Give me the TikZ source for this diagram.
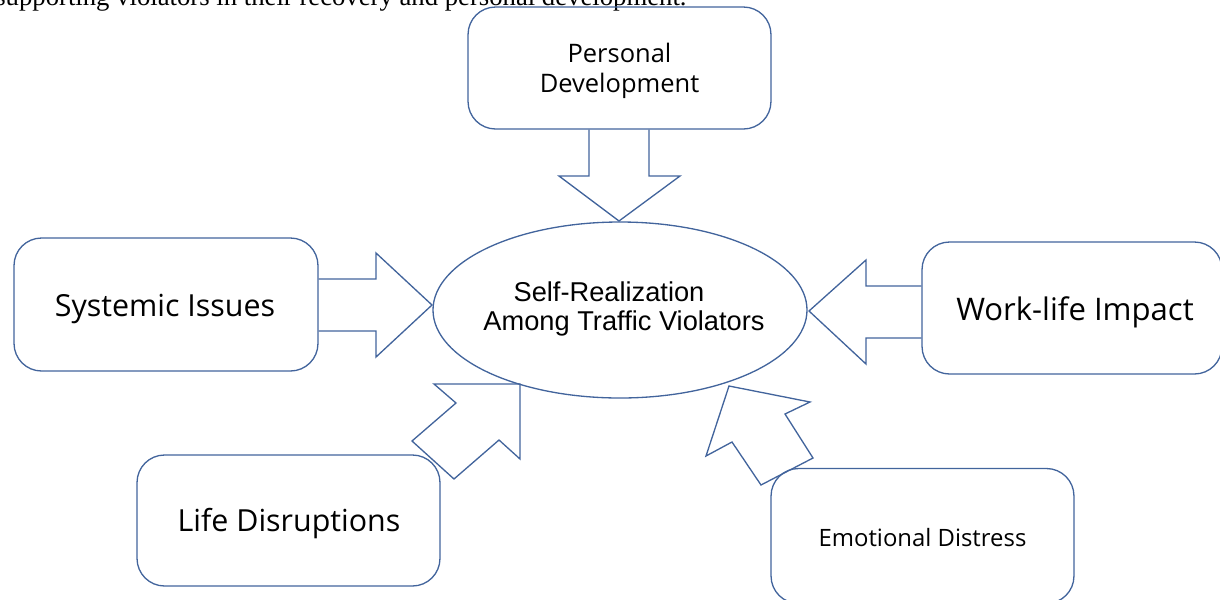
\documentclass[tikz,border=0pt]{standalone}
\usepackage{fontspec}
\setmainfont{Liberation Serif}
\newfontfamily\boxfont{Open Sans}
\newfontfamily\centrefont{Liberation Sans}
\usetikzlibrary{positioning}

\definecolor{edgeblue}{HTML}{42649C}

\tikzset{
  box/.style={draw=edgeblue, line width=0.75pt, rounded corners=0.55cm,
    align=center, font=\boxfont, inner sep=0pt},
  blockarrow/.style={draw=edgeblue, line width=0.75pt, line join=miter}
}

\begin{document}
\begin{tikzpicture}[x=0.02cm, y=-0.02cm]
	\useasboundingbox (0,0) rectangle (1220,599);
	\clip (0,0) rectangle (1220,599);
	
	% running text above the figure
	\node[anchor=base west, inner sep=0pt, font=\fontsize{15.2}{17}\selectfont] (caption) at (-5,5)
	{supporting violators in their recovery and personal development.};
	
	% centre
	\draw[edgeblue, line width=0.75pt] (620,310) ellipse [x radius=187, y radius=88];
	\node[font=\centrefont\fontsize{15.5}{17}\selectfont, align=center] (self) at (624,309)
	{Self-Realization\hspace*{0.6cm}\\Among Traffic Violators};
	
	% boxes
	\node[box, minimum width=6.06cm, minimum height=2.44cm] (pd) at (619.5,68) {};
	\node[font=\boxfont\fontsize{14.5}{17.5}\selectfont, align=center] at (619.5,71) {Personal\\Development};
	\node[box, minimum width=6.08cm, minimum height=2.66cm] (si) at (166,304.5) {};
	\node[font=\boxfont\fontsize{17.3}{20}\selectfont] at (165,309) {Systemic Issues};
	\node[box, minimum width=6.0cm, minimum height=2.64cm] (wl) at (1072,308) {};
	\node[font=\boxfont\fontsize{17.7}{20}\selectfont] at (1075,312) {Work-life Impact};
	\node[box, minimum width=6.06cm, minimum height=2.62cm] (ld) at (288.5,520.5) {};
	\node[font=\boxfont\fontsize{17.3}{20}\selectfont] at (289,524) {Life Disruptions};
	\node[box, minimum width=6.06cm, minimum height=2.7cm] (ed) at (922.5,536) {};
	\node[font=\boxfont\fontsize{13.6}{16}\selectfont] at (922.5,538) {Emotional Distress};
	
	% block arrows into the centre
	\draw[blockarrow] (pd.south -| 589,0) -- (589,176) -- (559,176) -- (619,221) -- (680,176) -- (649,176) -- (pd.south -| 649,0);
	\draw[blockarrow] (si.east |- 0,279) -- (376,279) -- (376,253) -- (432,305) -- (376,357) -- (376,331) -- (si.east |- 0,331);
	\draw[blockarrow] (wl.west |- 0,286) -- (866,286) -- (866,260) -- (809,311) -- (866,364) -- (866,338) -- (wl.west |- 0,338);
	\draw[blockarrow] (520,384) -- (520,459) -- (499,440) -- (454,479) -- (412,441) -- (456,403) -- (434,384) -- cycle;
	\draw[blockarrow] (729,386) -- (810,402) -- (785,414) -- (813,458) -- (761,485) -- (732,442) -- (706,456) -- cycle;
\end{tikzpicture}
\end{document}
